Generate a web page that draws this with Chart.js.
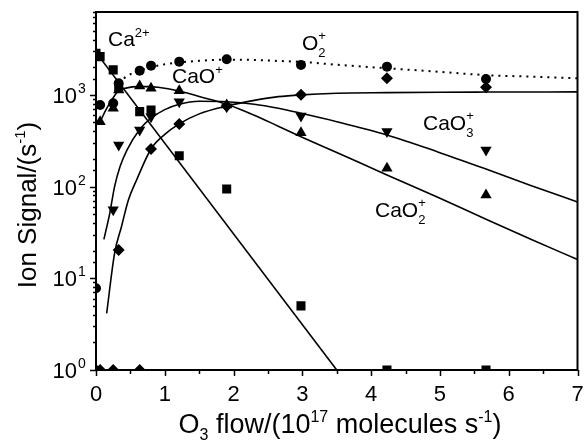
<!DOCTYPE html>
<html>
<head>
<meta charset="utf-8">
<script src="https://cdn.jsdelivr.net/npm/chart.js@4.4.1/dist/chart.umd.min.js"></script>
<style>
  html, body { margin: 0; padding: 0; background: #fff; }
</style>
</head>
<body>
<canvas id="chart" width="584" height="445"></canvas>
<script>
const FONT = '"Liberation Sans", Arial, Helvetica, sans-serif';

// measured points (O3 flow in 1e17 molecules/s, signal in 1/s)
const caX = [0, 0.06, 0.25, 0.33, 0.635, 0.80, 1.21, 1.90, 2.98, 4.23, 5.67];
const caY = [2840, 2610, 1870, 1180, 656, 685, 217, 94, 5.0, 1, 1];

const o2X = [0, 0.06, 0.25, 0.33, 0.635, 0.80, 1.21, 1.90, 2.98, 4.23, 5.67];
const o2Y = [7.8, 776, 810, 1340, 1836, 2080, 2300, 2440, 2120, 2030, 1490];

const caoX = [0.06, 0.25, 0.33, 0.635, 0.80, 1.21, 1.90, 2.98, 4.23, 5.67];
const caoY = [510, 714, 1130, 1250, 1180, 1110, 776, 387, 158, 81];

const cao3X = [0.25, 0.33, 0.635, 0.80, 1.21, 1.90, 2.98, 4.23, 5.67];
const cao3Y = [56, 284, 414, 578, 843, 743, 589, 398, 251];

const cao2X = [0, 0.06, 0.25, 0.33, 0.635, 0.80, 1.21, 1.90, 2.98, 4.23, 5.67];
const cao2Y = [1, 1, 1, 20.4, 1, 257, 482, 755, 1000, 1515, 1210];

// fitted curves
const caFitX = [0, 3.5];
const caFitY = [2900, 1];

const o2FitX = [0.33, 0.45, 0.635, 0.8, 1.0, 1.21, 1.5, 1.9, 2.3, 2.65, 2.98, 3.5, 4.23, 5.0, 5.67, 6.3, 7];
const o2FitY = [1340, 1600, 1840, 2000, 2150, 2250, 2350, 2420, 2400, 2340, 2290, 2130, 1950, 1780, 1640, 1580, 1515];

const caoFitX = [0.06, 0.15, 0.25, 0.33, 0.45, 0.6, 0.75, 0.9, 1.21, 1.5, 1.9, 2.3, 2.65, 2.98, 3.5, 4.23, 4.96, 5.67, 6.33, 7];
const caoFitY = [510, 700, 930, 1110, 1190, 1230, 1230, 1210, 1100, 960, 790, 600, 455, 350, 235, 134, 77, 44, 26.5, 16];

const cao3FitX = [0.115, 0.2, 0.27, 0.35, 0.45, 0.635, 0.8, 1.0, 1.21, 1.5, 1.9, 2.3, 2.65, 2.98, 3.5, 4.23, 4.96, 5.67, 6.33, 7];
const cao3FitY = [26.6, 51, 100, 165, 250, 420, 556, 690, 790, 850, 840, 790, 713, 630, 510, 365, 240, 155, 102, 68];

const cao2FitX = [0.155, 0.27, 0.37, 0.47, 0.59, 0.8, 1.0, 1.21, 1.5, 1.9, 2.3, 2.65, 2.98, 3.5, 4.23, 5.0, 5.67, 7];
const cao2FitY = [4.15, 18.7, 36.5, 71, 118, 257, 370, 482, 620, 755, 870, 955, 1000, 1040, 1057, 1068, 1072, 1077];

const xTicks = [0, 1, 2, 3, 4, 5, 6, 7];
const yMajor = [1, 10, 100, 1000];

function pts(xs, ys) {
  return xs.map((x, i) => ({ x: x, y: ys[i] }));
}

function markers(xs, ys, style, radius, rotation) {
  return {
    data: pts(xs, ys),
    showLine: false,
    pointStyle: style,
    pointRadius: radius,
    pointRotation: rotation || 0,
    pointBackgroundColor: '#000',
    pointBorderColor: '#000',
    pointBorderWidth: 0,
    clip: 0
  };
}

function curve(xs, ys, dash) {
  return {
    data: pts(xs, ys),
    showLine: true,
    borderColor: '#000',
    borderWidth: dash ? 2 : 1.6,
    borderDash: dash || [],
    pointRadius: 0,
    cubicInterpolationMode: 'monotone',
    clip: 0
  };
}

// draws text made of pieces: [text, size, shift, noAdvance]
function richText(ctx, x, y, parts, align) {
  let w = 0;
  parts.forEach(p => {
    ctx.font = p[1] + 'px ' + FONT;
    if (!p[3]) w += ctx.measureText(p[0]).width;
  });
  let cx = align === 'center' ? x - w / 2 : (align === 'right' ? x - w : x);
  ctx.textAlign = 'left';
  parts.forEach(p => {
    ctx.font = p[1] + 'px ' + FONT;
    ctx.fillText(p[0], cx, y + (p[2] || 0));
    if (!p[3]) cx += ctx.measureText(p[0]).width;
  });
}

const decor = {
  id: 'decor',
  afterDraw(chart) {
    const { ctx, chartArea: a, scales } = chart;
    const xs = scales.x, ys = scales.y;
    ctx.save();
    ctx.strokeStyle = '#000';
    ctx.fillStyle = '#000';
    ctx.lineWidth = 2;
    ctx.strokeRect(a.left, a.top, a.right - a.left, a.bottom - a.top);

    // tick marks
    ctx.lineWidth = 1.5;
    ctx.beginPath();
    xs.ticks.forEach(t => {
      const px = Math.round(xs.getPixelForValue(t.value)) + 0.5;
      const len = Number.isInteger(t.value) ? 6 : 4;
      ctx.moveTo(px, a.bottom);
      ctx.lineTo(px, a.bottom + len);
    });
    ys.ticks.forEach(t => {
      const py = Math.round(ys.getPixelForValue(t.value)) + 0.5;
      const len = yMajor.includes(t.value) ? 6 : 3;
      ctx.moveTo(a.left, py);
      ctx.lineTo(a.left - len, py);
    });
    ctx.stroke();

    ctx.textBaseline = 'alphabetic';

    // x tick labels
    ctx.font = '22px ' + FONT;
    ctx.textAlign = 'center';
    xTicks.forEach(v => {
      ctx.fillText(String(v), xs.getPixelForValue(v), 401);
    });

    // y tick labels 10^n
    yMajor.forEach((v, i) => {
      const py = ys.getPixelForValue(v);
      richText(ctx, a.left - 19, py + 8, [['10', 22, 0]], 'right');
      ctx.font = '14px ' + FONT;
      ctx.textAlign = 'left';
      ctx.fillText(String(i), a.left - 18, py - 2);
    });

    // x title
    richText(ctx, 340, 433, [
      ['O', 27, 0], ['3', 16, 7], [' flow/(10', 27, 0], ['17', 16, -11],
      [' molecules s', 27, 0], ['-1', 16, -11], [')', 27, 0]
    ], 'center');

    // y title
    ctx.save();
    ctx.translate(36, 205);
    ctx.rotate(-Math.PI / 2);
    richText(ctx, 0, 0, [['Ion Signal/(s', 26, 0], ['-1', 15, -11], [')', 26, 0]], 'center');
    ctx.restore();

    // species labels
    richText(ctx, 108, 46, [['Ca', 21, 0], ['2+', 13, -9]]);
    richText(ctx, 172, 83, [['CaO', 21, 0], ['+', 13, -9]]);
    richText(ctx, 302, 50, [['O', 21, 0], ['2', 13, 7, true], ['+', 13, -10]]);
    richText(ctx, 423, 130, [['CaO', 21, 0], ['3', 13, 7, true], ['+', 13, -10]]);
    richText(ctx, 375, 217, [['CaO', 21, 0], ['2', 13, 7, true], ['+', 13, -10]]);
    ctx.restore();
  }
};

new Chart(document.getElementById('chart'), {
  type: 'scatter',
  data: {
    datasets: [
      curve(caFitX, caFitY),
      curve(o2FitX, o2FitY, [2, 5]),
      curve(caoFitX, caoFitY),
      curve(cao3FitX, cao3FitY),
      curve(cao2FitX, cao2FitY),
      markers(caX, caY, 'rect', 6.4),
      markers(o2X, o2Y, 'circle', 5),
      markers(caoX, caoY, 'triangle', 6.5),
      markers(cao3X, cao3Y, 'triangle', 6.5, 180),
      markers(cao2X, cao2Y, 'rectRot', 6)
    ]
  },
  options: {
    responsive: false,
    animation: false,
    events: [],
    layout: { padding: { top: 12, right: 4, left: 0, bottom: 0 } },
    plugins: {
      legend: { display: false },
      tooltip: { enabled: false }
    },
    scales: {
      x: {
        type: 'linear',
        min: 0,
        max: 7,
        grid: { display: false },
        border: { display: false },
        ticks: { display: false, stepSize: 0.5 },
        afterFit: s => { s.height = 75; }
      },
      y: {
        type: 'logarithmic',
        min: 1,
        max: 8000,
        grid: { display: false },
        border: { display: false },
        ticks: { display: false },
        afterFit: s => { s.width = 96; }
      }
    }
  },
  plugins: [decor]
});
</script>
</body>
</html>
